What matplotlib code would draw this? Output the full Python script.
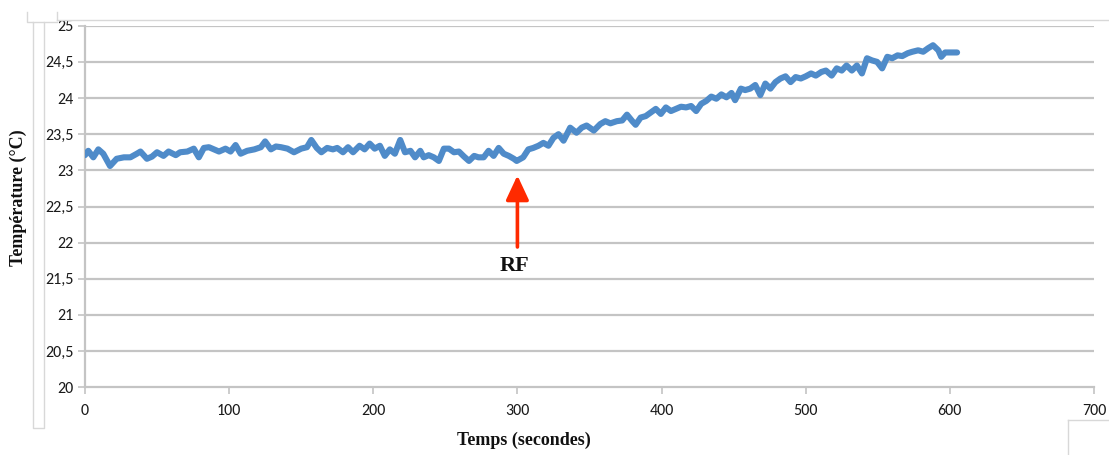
import matplotlib
matplotlib.use("Agg")
import matplotlib.pyplot as plt
from matplotlib.lines import Line2D
from matplotlib import font_manager

# ---- data ----
time_s = [0, 2.3, 5.8, 9.3, 12.7, 17.4, 22, 27, 31.5, 36, 38.5, 43, 46.5, 50, 54.5, 58, 63, 66,
          71, 75.5, 79, 82.5, 86, 89.5, 93, 97.5, 101, 104.5, 108, 112.5, 117.5, 122, 125, 129,
          132.5, 136, 140.5, 145, 150, 154, 157, 160.8, 164, 168, 172, 175, 179, 182.5, 186,
          190.5, 194, 197.5, 201, 204.6, 208, 211.5, 215, 218.7, 222, 225.8, 229, 232.6, 235,
          238.5, 242, 245.5, 249, 252.5, 256, 259.4, 263, 266.4, 270, 273, 276.6, 280, 283.5,
          287, 290.5, 294, 297.5, 299.5, 304, 307.6, 311, 314.6, 318, 321.5, 325, 328.5, 332,
          336.6, 341, 344.6, 348, 353, 357.5, 361, 364.5, 369, 372.7, 376, 379.7, 382, 385.5,
          389, 392.5, 396, 399.5, 403, 406.5, 410, 413.5, 417, 420.5, 424, 427.5, 431, 434.5,
          438, 441.5, 445, 448.5, 451, 455, 458, 461.5, 465, 468.5, 472, 475.5, 479, 482.5,
          486, 489.5, 493, 496.6, 500, 503.7, 507, 510.8, 514, 518, 521.5, 525, 528.3, 532,
          535.5, 539, 542.5, 546, 549.5, 553, 556.6, 560, 563.7, 567, 570.8, 574, 578, 581.5,
          585, 588.3, 592, 594, 596.7, 600, 605]
temperature = [23.21, 23.27, 23.18, 23.29, 23.23, 23.06, 23.16, 23.18, 23.18, 23.23, 23.26,
               23.16, 23.19, 23.25, 23.20, 23.26, 23.21, 23.25, 23.26, 23.30, 23.18, 23.31,
               23.32, 23.29, 23.26, 23.30, 23.26, 23.35, 23.23, 23.27, 23.29, 23.32, 23.40,
               23.29, 23.33, 23.32, 23.30, 23.25, 23.30, 23.32, 23.42, 23.31, 23.25, 23.31,
               23.29, 23.31, 23.25, 23.32, 23.25, 23.34, 23.29, 23.37, 23.30, 23.34, 23.20,
               23.29, 23.23, 23.42, 23.25, 23.27, 23.18, 23.27, 23.18, 23.21, 23.18, 23.13,
               23.30, 23.30, 23.25, 23.26, 23.19, 23.13, 23.20, 23.18, 23.18, 23.27, 23.20,
               23.31, 23.23, 23.20, 23.16, 23.13, 23.18, 23.29, 23.31, 23.34, 23.38, 23.34,
               23.45, 23.50, 23.41, 23.59, 23.52, 23.59, 23.62, 23.55, 23.64, 23.68, 23.65,
               23.68, 23.69, 23.77, 23.68, 23.63, 23.73, 23.75, 23.80, 23.85, 23.78, 23.87,
               23.82, 23.85, 23.88, 23.87, 23.89, 23.82, 23.92, 23.96, 24.02, 23.99, 24.05,
               24.01, 24.07, 23.97, 24.13, 24.11, 24.13, 24.18, 24.04, 24.20, 24.13, 24.22,
               24.27, 24.30, 24.22, 24.29, 24.27, 24.30, 24.34, 24.31, 24.36, 24.38, 24.31,
               24.41, 24.38, 24.45, 24.38, 24.45, 24.34, 24.55, 24.52, 24.50, 24.41, 24.57,
               24.55, 24.59, 24.58, 24.62, 24.64, 24.66, 24.64, 24.69, 24.73, 24.66, 24.57,
               24.63, 24.63, 24.63]

x_ticks = [0, 100, 200, 300, 400, 500, 600, 700]
y_ticks = [20, 20.5, 21, 21.5, 22, 22.5, 23, 23.5, 24, 24.5, 25]
y_tick_labels = ["20", "20,5", "21", "21,5", "22", "22,5", "23", "23,5", "24", "24,5", "25"]
x_label = "Temps (secondes)"
y_label = "Température (°C)"
annot_text = "RF"
annot_x = 300
annot_tail_y = 21.94
annot_head_y = 22.93

# ---- fonts ----
avail = {f.name for f in font_manager.fontManager.ttflist}
tick_family = [f for f in ["Carlito", "Liberation Sans Narrow", "Liberation Sans"] if f in avail] + ["DejaVu Sans"]
serif_family = [f for f in ["Liberation Serif", "DejaVu Serif"] if f in avail]

fig = plt.figure(figsize=(11.09, 4.55), dpi=100)
ax = fig.add_axes([0.0766, 0.1488, 0.9099, 0.7947])

grid_c = "#c4c4c4"
ax.set_xlim(0, 700)
ax.set_ylim(20, 25)
ax.set_yticks(y_ticks)
ax.set_yticklabels(y_tick_labels)
ax.set_xticks(x_ticks)
for y in y_ticks[1:]:
    ax.axhline(y, color=grid_c, lw=1.6, zorder=1)

ax.plot(time_s, temperature, color="#4f8bc9", lw=4.4, solid_joinstyle="round",
        solid_capstyle="round", zorder=3)

for s in ["top", "right"]:
    ax.spines[s].set_visible(False)
for s in ["left", "bottom"]:
    ax.spines[s].set_color(grid_c)
    ax.spines[s].set_linewidth(1.6)

ax.tick_params(axis="both", colors=grid_c, length=5, width=1.2, labelcolor="#1a1a1a",
               labelsize=11.5)
ax.tick_params(axis="y", pad=3)
ax.tick_params(axis="x", pad=7)
for lab in ax.get_xticklabels() + ax.get_yticklabels():
    lab.set_family(tick_family)

# axis labels
fig.text(0.0165, 0.565, y_label, rotation=90, ha="center", va="center",
         family=serif_family, weight="bold", fontsize=13, color="#111111")
fig.text(0.472, 0.033, x_label, ha="center", va="center",
         family=serif_family, weight="bold", fontsize=13, color="#111111")

# RF annotation
ax.annotate("", xy=(annot_x, annot_head_y), xytext=(annot_x, annot_tail_y),
            arrowprops=dict(arrowstyle="-|>,head_length=0.75,head_width=0.35",
                            mutation_scale=20, color="#ff2a00", lw=2.6,
                            shrinkA=0, shrinkB=0), zorder=5)
ax.text(annot_x - 2, 21.68, annot_text, ha="center", va="center",
        family=serif_family, weight="bold", fontsize=16, color="#111111")

# screenshot frame remnants
W, H = 1109, 455
def fl(xs, ys):
    fig.add_artist(Line2D([x / W for x in xs], [1 - y / H for y in ys],
                          color="#d8d8d8", lw=1.0, transform=fig.transFigure))
fl([27, 27, 33, 33, 44, 44, 33], [12, 22, 22, 428, 428, 22, 22])
fl([44, 57], [22, 22])
fl([57, 57], [12, 20])
fl([57, 1109], [20, 20])
fl([1068, 1068], [455, 420])
fl([1068, 1109], [420, 420])

fig.savefig("out.png", dpi=100)
